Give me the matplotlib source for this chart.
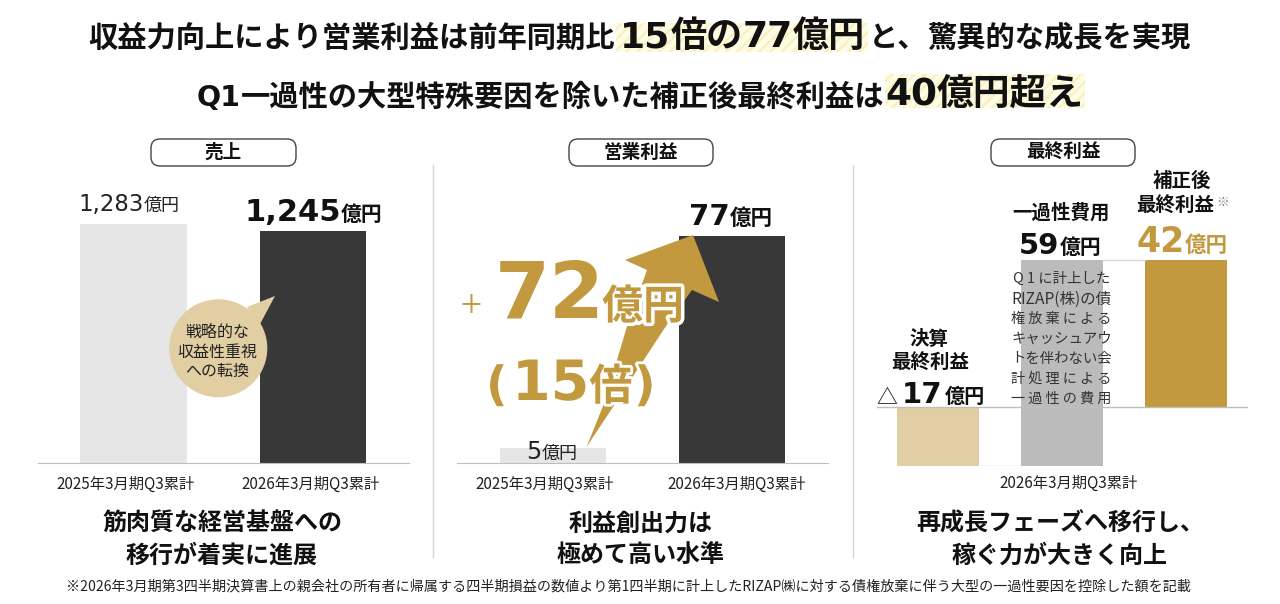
import matplotlib
matplotlib.use("Agg")
import matplotlib.pyplot as plt
from matplotlib.patches import Rectangle, FancyBboxPatch, Polygon, Circle
import matplotlib.patheffects as pe

# ---- data ----
sales_categories = ["2025年3月期Q3累計", "2026年3月期Q3累計"]
sales_values = [1283, 1245]
profit_categories = ["2025年3月期Q3累計", "2026年3月期Q3累計"]
profit_values = [5, 77]
net_category = "2026年3月期Q3累計"
net_reported = -17
net_onetime = 59
net_adjusted = 42
unit = "億円"

W, H = 1280, 604
CJK = ["Noto Sans CJK JP", "DejaVu Sans"]
LAT = ["DejaVu Sans", "Noto Sans CJK JP"]
INK = "#111111"
GOLD = "#C2993F"
TAN = "#E2CEA3"
GREY_BAR = "#E6E6E6"
DARK_BAR = "#383838"
MID_BAR = "#BBBBBB"
LINE = "#BFBFBF"
plt.rcParams["font.family"] = CJK
plt.rcParams["hatch.linewidth"] = 1.6

fig = plt.figure(figsize=(W / 100, H / 100), dpi=100, facecolor="white")


def pix_axes(l, t, r, b, **kw):
    return fig.add_axes([l / W, 1 - b / H, (r - l) / W, (b - t) / H], **kw)


def style(ax, ticks, labels, pad):
    ax.set_xticks(ticks, labels, fontsize=11, color="#222222", family=CJK)
    ax.set_yticks([])
    ax.tick_params(axis="x", length=0, pad=pad)
    for s in ("top", "left", "right"):
        ax.spines[s].set_visible(False)
    ax.patch.set_alpha(0)


# ---- panel 1: sales ----
a1 = pix_axes(38, 130, 409, 463)
a1.bar([0, 1], sales_values, width=0.593, color=[GREY_BAR, DARK_BAR])
a1.set_xlim(-0.532, 1.535)
a1.set_ylim(0, 1787)
style(a1, [-0.044, 0.984], sales_categories, 9)
a1.spines["bottom"].set_color(LINE)

# ---- panel 2: operating profit ----
a2 = pix_axes(457, 130, 828, 463)
a2.bar([0, 1], profit_values, width=0.592, color=[GREY_BAR, DARK_BAR])
a2.set_xlim(-0.536, 1.536)
a2.set_ylim(0, 112.9)
style(a2, [-0.045, 1.028], profit_categories, 9)
a2.spines["bottom"].set_color(LINE)

# ---- panel 3: net profit waterfall ----
a3 = pix_axes(877, 170, 1248, 466)
bottoms = [0, net_reported, 0]
heights = [net_reported, net_onetime, net_adjusted]
a3.bar([0, 1, 2], heights, bottom=bottoms, width=0.661, color=[TAN, MID_BAR, GOLD])
a3.plot([0.33, 0.67], [net_reported, net_reported], color="#D9D9D9", lw=1)
a3.plot([1.33, 1.67], [net_adjusted, net_adjusted], color="#D9D9D9", lw=1)
a3.axhline(0, color=LINE, lw=1, zorder=3)
a3.set_xlim(-0.492, 2.5)
a3.set_ylim(net_reported, 67.8)
style(a3, [1.052], [net_category], 6)
a3.spines["bottom"].set_visible(False)

# ---- overlay in pixel coordinates ----
ov = fig.add_axes([0, 0, 1, 1], zorder=10)
ov.set_xlim(0, W)
ov.set_ylim(H, 0)
ov.axis("off")
rend = fig.canvas.get_renderer()


def runs(x, y, parts, color=INK, stroke=None):
    for part in parts:
        txt, size, fam, weight = part[:4]
        t = ov.text(x, y, txt, fontsize=size, family=fam, fontweight=weight,
                    color=color, va="baseline", ha="left", zorder=8)
        if stroke:
            t.set_path_effects([pe.withStroke(linewidth=stroke, foreground="white")])
        x += t.get_window_extent(rend).width + (part[4] if len(part) > 4 else 0)


def center(x, y, txt, size, weight="bold", color=INK, fam=CJK):
    ov.text(x, y, txt, fontsize=size, fontweight=weight, color=color, family=fam,
            ha="center", va="baseline", zorder=8)


# highlights behind headline figures
for x0, y0, w, h in [(616, 23, 252, 29), (885, 74, 200, 34)]:
    ov.add_patch(Rectangle((x0, y0), w, h, facecolor="#FEFBE6", edgecolor="#F9F1BA",
                           hatch="///", lw=0, zorder=1))

# headline
runs(88, 47, [("収益力向上により営業利益は前年同期比", 21.1, CJK, "bold")])
runs(620, 47, [("15", 26, LAT, "bold"), ("倍の", 26, CJK, "bold"),
               ("77", 26, LAT, "bold"), ("億円", 26, CJK, "bold")])
runs(869, 47, [("と、", 21.1, CJK, "bold")])
runs(927, 47, [("驚異的な成長を実現", 21.1, CJK, "bold")])
runs(197, 106, [("Q1", 20.5, LAT, "bold"), ("一過性の大型特殊要因を除いた補正後最終利益は", 21.1, CJK, "bold")])
runs(885, 106, [("40", 27, LAT, "bold"), ("億円超え", 26.5, CJK, "bold")])

# pills
for (l, r, txt) in [(151, 296, "売上"), (569, 713, "営業利益"), (991, 1135, "最終利益")]:
    ov.add_patch(FancyBboxPatch((l + 9, 148), r - l - 18, 9,
                                boxstyle="round,pad=9,rounding_size=9",
                                fc="white", ec="#444444", lw=1, zorder=3))
    center((l + r) / 2, 158, txt, 13.4)

# dividers
for x in (433, 853):
    ov.plot([x, x], [165, 557], color="#D4D4D4", lw=1, zorder=1)

# panel 1 labels
runs(78, 211, [(f"{sales_values[0]:,}", 16.5, LAT, "normal"), (unit, 13, CJK, "normal")], color="#222222")
runs(244, 221, [(f"{sales_values[1]:,}", 22, LAT, "bold"), (unit, 15, CJK, "bold")])

# callout
ov.add_patch(Polygon([(247, 307), (275, 296), (259, 326)], closed=True, fc=TAN, ec="none", zorder=4))
ov.add_patch(Circle((218.3, 348.3), 49, fc=TAN, ec="none", zorder=4))
for yy, s in [(337, "戦略的な"), (357, "収益性重視"), (376, "への転換")]:
    center(217, yy, s, 11.5, weight="normal", color="#222222")

# panel 2 bolt and labels
ov.add_patch(Polygon([(586.7, 446.7), (603, 406), (617, 360), (628, 323), (647, 270),
                      (625, 260), (693, 235), (719, 302), (692, 290), (668, 323),
                      (613, 407)],
                     closed=True, fc=GOLD, ec="none", zorder=5))
runs(526, 459, [(f"{profit_values[0]}", 17, LAT, "normal"), (unit, 13, CJK, "normal")], color="#222222")
runs(689, 225, [(f"{profit_values[1]}", 21, LAT, "bold"), (unit, 15.5, CJK, "bold")])
runs(461, 318, [("+", 28, CJK, "light")], color=GOLD)
runs(495, 318, [(f"{profit_values[1] - profit_values[0]}", 57, LAT, "bold")], color=GOLD)
runs(602, 319, [(unit, 29.5, CJK, "bold")], color=GOLD, stroke=5)
runs(486, 400, [("(", 34, LAT, "bold")], color=GOLD, stroke=4)
runs(512, 400, [("15", 40, LAT, "bold"), ("倍", 31, CJK, "bold")], color=GOLD, stroke=4)
runs(634, 400, [(")", 34, LAT, "bold")], color=GOLD, stroke=4)

# panel 3 labels
center(929, 345, "決算", 14)
center(930, 369, "最終利益", 14)
runs(876, 403, [("△", 15, CJK, "normal", 5), (f"{abs(net_reported)}", 21, LAT, "bold", 2), (unit, 14.5, CJK, "bold")])
center(1061, 219, "一過性費用", 14)
runs(1019, 254, [(f"{net_onetime}", 21, LAT, "bold"), (unit, 15, CJK, "bold")])
center(1182, 187, "補正後", 14)
center(1175, 212, "最終利益", 14)
runs(1216, 206, [("※", 9, CJK, "normal")], color="#777777")
runs(1136, 252, [(f"{net_adjusted}", 25, LAT, "bold", 1), (unit, 15.5, CJK, "bold")], color=GOLD)
note_lines = ["Q 1 に計上した", "RIZAP(株)の債", "権 放 棄 に よ る", "キャッシュアウ",
              "トを伴わない会", "計 処 理 に よ る", "一 過 性 の 費 用"]
note_sizes = [10.4, 11.2, 10.2, 10.4, 10.4, 10.2, 10.2]
for i, s in enumerate(note_lines):
    ov.text(1061.5, 279 + i * 20, s, fontsize=note_sizes[i], color="#333333", ha="center",
            va="center", zorder=8)

# messages
center(222, 531, "筋肉質な経営基盤への", 17.3)
center(222, 563, "移行が着実に進展", 17.3)
center(641, 531, "利益創出力は", 17.3)
center(641, 563, "極めて高い水準", 17.3)
center(1060, 531, "再成長フェーズへ移行し、", 17.3)
center(1060, 563, "稼ぐ力が大きく向上", 17.3)

# footnote
ov.text(629, 590, "※2026年3月期第3四半期決算書上の親会社の所有者に帰属する四半期損益の数値より第1四半期に計上した"
                  "RIZAP㈱に対する債権放棄に伴う大型の一過性要因を控除した額を記載",
        fontsize=10.15, color="#222222", ha="center", va="baseline", family=CJK, zorder=8)

fig.savefig("out.png", dpi=100, facecolor="white")
